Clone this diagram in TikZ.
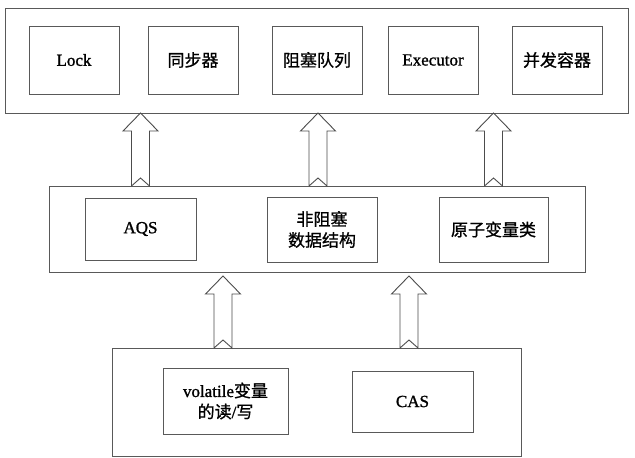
\documentclass[tikz,border=0pt]{standalone}
\usepackage{fontspec}
\setmainfont{Liberation Serif}[FakeBold=1.2]
\newfontfamily\cjk{Noto Sans CJK SC}[FakeBold=0.8]
\usetikzlibrary{calc}
\begin{document}
\begin{tikzpicture}[x=1pt,y=1pt,
  every node/.style={inner sep=0pt,outer sep=0pt},
  frame/.style={draw=black!65,line width=0.9pt,fill=white},
  box/.style={draw=black!65,line width=0.9pt,fill=white,align=center,
    font=\fontsize{17}{21}\selectfont},
  blockarr/.style={draw=black!70,line width=0.9pt,fill=white,
    to path={let \p1=(\tikztostart), \p2=(\tikztotarget) in
      (\x1-9pt,\y1) -- (\x1-9pt,\y2-18pt) -- (\x1-17.5pt,\y2-18pt) -- (\x1,\y2)
      -- (\x1+17.5pt,\y2-18pt) -- (\x1+9pt,\y2-18pt) -- (\x1+9pt,\y1)
      -- (\x1,\y1+8pt) -- (\x1-9pt,\y1)}}]
\useasboundingbox (0,0) rectangle (635,458);
% top layer
\node[frame,minimum width=623pt,minimum height=105pt] (top) at (316.5,397.5) {};
\node[box,minimum width=90pt,minimum height=68pt] (lock) at (74,398) {Lock};
\node[box,minimum width=90pt,minimum height=68pt] (sync) at (193,398) {\cjk 同步器};
\node[box,minimum width=90pt,minimum height=68pt] (bq) at (317,398) {\cjk 阻塞队列};
\node[box,minimum width=90pt,minimum height=68pt] (exec) at (433,398) {Executor};
\node[box,minimum width=90pt,minimum height=68pt] (conc) at (557,398) {\cjk 并发容器};
% middle layer
\node[frame,minimum width=536pt,minimum height=86pt] (mid) at (317,229) {};
\node[box,minimum width=111pt,minimum height=62pt] (aqs) at (140.5,229) {AQS};
\node[box,minimum width=110pt,minimum height=65pt] (nbds) at (322,228.5) {\cjk 非阻塞\\\cjk 数据结构};
\node[box,minimum width=109pt,minimum height=65pt] (atom) at (493.5,228.5) {\cjk 原子变量类};
% bottom layer
\node[frame,minimum width=409pt,minimum height=108pt] (bot) at (316.5,56) {};
\node[box,minimum width=125pt,minimum height=66pt] (vol) at (225.5,57) {volatile{\cjk 变量}\\{\cjk 的读}/{\cjk 写}};
\node[box,minimum width=121pt,minimum height=61pt] (cas) at (412.5,56.5) {CAS};
% arrows
\draw[blockarr] (mid.north -| aqs) to (top.south -| aqs);
\draw[blockarr] ([xshift=-4pt]mid.north -| nbds) to ([xshift=-4pt]top.south -| nbds);
\draw[blockarr] (mid.north -| atom) to (top.south -| atom);
\draw[blockarr] ([xshift=-2.5pt]bot.north -| vol) to ([xshift=-2.5pt,yshift=-4pt]mid.south -| vol);
\draw[blockarr] ([xshift=-3.5pt]bot.north -| cas) to ([xshift=-3.5pt,yshift=-4pt]mid.south -| cas);
\end{tikzpicture}
\end{document}
